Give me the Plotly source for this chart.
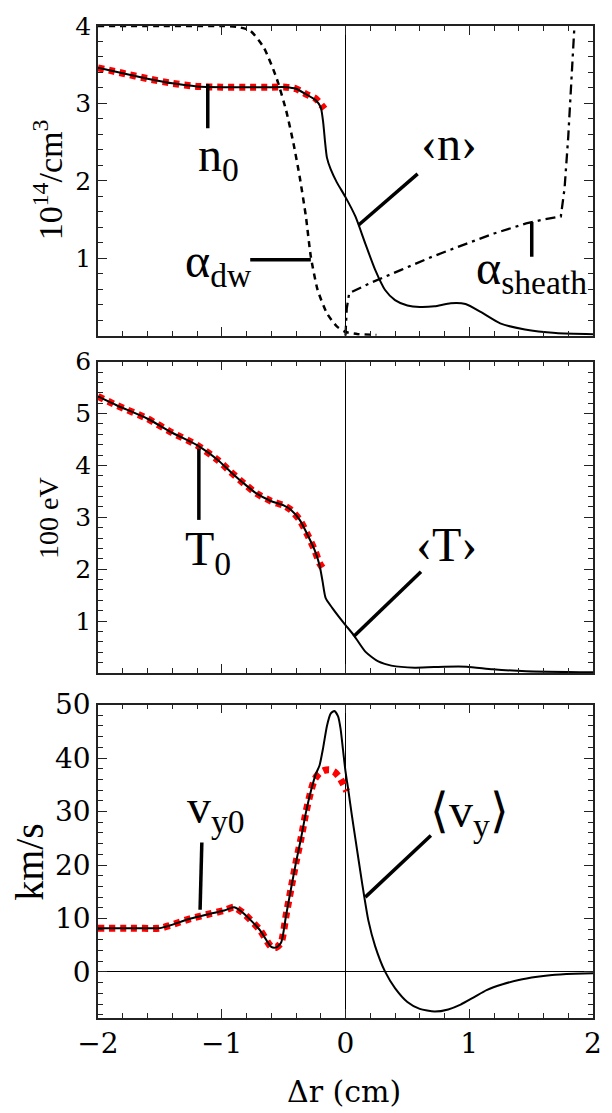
import plotly.graph_objects as go

# ---------------- data ----------------
n0_x = [-2.0, -1.8, -1.6, -1.4, -1.2, -1.0, -0.8, -0.6, -0.48, -0.4, -0.32, -0.24, -0.17]
n0_y = [3.46, 3.39, 3.32, 3.26, 3.22, 3.21, 3.21, 3.21, 3.21, 3.19, 3.12, 3.06, 2.93]

n_avg_x = [-2.0, -1.8, -1.6, -1.4, -1.2, -1.0, -0.8, -0.6, -0.48, -0.4, -0.32, -0.24, -0.2,
           -0.18, -0.165, -0.15, -0.12, -0.07, 0.0, 0.08, 0.16, 0.24, 0.32, 0.4, 0.5, 0.6,
           0.72, 0.85, 0.97, 1.1, 1.25, 1.45, 1.7, 2.0]
n_avg_y = [3.46, 3.39, 3.32, 3.26, 3.22, 3.21, 3.21, 3.21, 3.21, 3.19, 3.12, 3.04, 2.95,
           2.75, 2.5, 2.3, 2.15, 1.98, 1.79, 1.54, 1.19, 0.85, 0.59, 0.46, 0.39, 0.37,
           0.38, 0.42, 0.41, 0.30, 0.16, 0.08, 0.035, 0.02]

alpha_dw_x = [-2.0, -1.5, -1.0, -0.88, -0.77, -0.66, -0.56, -0.48, -0.42, -0.37, -0.32,
              -0.28, -0.225, -0.15, -0.07, 0.0, 0.1, 0.25]
alpha_dw_y = [4.0, 4.0, 4.0, 3.99, 3.94, 3.72, 3.34, 2.91, 2.48, 2.05, 1.54,
              1.02, 0.59, 0.29, 0.12, 0.05, 0.02, 0.01]

sheath_x = [0.0, 0.01, 0.03, 0.2, 0.45, 0.7, 0.98, 1.2, 1.46, 1.6, 1.74, 1.77, 1.80, 1.83, 1.85]
sheath_y = [0.0, 0.35, 0.55, 0.68, 0.85, 1.02, 1.19, 1.32, 1.45, 1.50, 1.54, 1.9, 2.57, 3.42, 4.0]

T0_x = [-2.0, -1.85, -1.6, -1.4, -1.2, -1.03, -0.93, -0.82, -0.72, -0.6, -0.5, -0.44,
        -0.37, -0.3, -0.25, -0.21, -0.18]
T0_y = [5.33, 5.16, 4.90, 4.63, 4.39, 4.10, 3.88, 3.65, 3.46, 3.31, 3.23, 3.14,
        2.95, 2.63, 2.37, 2.12, 2.0]

T_avg_x = [-2.0, -1.85, -1.6, -1.4, -1.2, -1.03, -0.93, -0.82, -0.72, -0.6, -0.5, -0.44,
           -0.37, -0.3, -0.25, -0.21, -0.185, -0.16, -0.106, -0.013, 0.066, 0.16, 0.265,
           0.37, 0.56, 0.8, 0.98, 1.19, 1.46, 2.0]
T_avg_y = [5.33, 5.16, 4.90, 4.63, 4.39, 4.10, 3.88, 3.65, 3.46, 3.31, 3.23, 3.14,
           2.95, 2.63, 2.37, 2.08, 1.76, 1.44, 1.25, 0.96, 0.73, 0.41, 0.22,
           0.14, 0.10, 0.12, 0.12, 0.07, 0.03, 0.01]

vy0_x = [-2.0, -1.75, -1.5, -1.42, -1.25, -1.09, -0.98, -0.9, -0.82, -0.69, -0.6, -0.56,
         -0.52, -0.48, -0.44, -0.4, -0.36, -0.32, -0.28, -0.25, -0.21, -0.17, -0.13,
         -0.09, -0.05, -0.02, 0.01]
vy0_y = [8.2, 8.2, 8.2, 8.7, 10.0, 10.9, 11.5, 12.1, 10.9, 7.8, 4.7, 4.6,
         5.5, 10.6, 15.6, 20.5, 24.9, 29.8, 33.8, 36.0, 37.2, 37.7, 37.8,
         37.4, 36.4, 35.2, 33.8]

vy_avg_x = [-2.0, -1.75, -1.5, -1.42, -1.25, -1.09, -0.98, -0.9, -0.82, -0.69, -0.6, -0.56,
            -0.52, -0.48, -0.44, -0.4, -0.36, -0.32, -0.28, -0.24, -0.21, -0.18, -0.15,
            -0.12, -0.09, -0.06, -0.04, -0.02, 0.0, 0.026, 0.05, 0.08, 0.133, 0.185,
            0.24, 0.32, 0.40, 0.5, 0.6, 0.72, 0.83, 0.93, 1.04, 1.14, 1.27, 1.40,
            1.55, 1.67, 1.85, 2.0]
vy_avg_y = [8.2, 8.2, 8.2, 8.7, 10.0, 10.9, 11.5, 12.1, 10.9, 7.8, 4.7, 4.6,
            5.5, 10.6, 15.6, 20.5, 24.9, 29.8, 33.8, 37.0, 38.6, 42.0, 46.0,
            48.3, 48.8, 47.8, 45.5, 41.5, 37.5, 33.5, 29.5, 24.9, 16.8, 9.6,
            4.8, 0.06, -3.0, -5.6, -6.9, -7.4, -7.0, -6.1, -4.7, -3.4, -2.3, -1.5,
            -0.9, -0.56, -0.35, -0.25]

x_ticks = [-2, -1, 0, 1, 2]
y1_ticks = [1, 2, 3, 4]
y2_ticks = [1, 2, 3, 4, 5, 6]
y3_ticks = [0, 10, 20, 30, 40, 50]

# ---------------- figure ----------------
SERIF = "Liberation Serif, Times New Roman, serif"
TICKF = "DejaVu Serif"
RED = "#ff0000"
fig = go.Figure()

def red_dots(x, y, ax):
    fig.add_trace(go.Scatter(x=x, y=y, mode="lines", xaxis="x" + ax, yaxis="y" + ax,
                             line=dict(color=RED, width=7, dash="6px,5px", shape="spline",
                                       smoothing=0.6),
                             hoverinfo="skip", showlegend=False))

def black_line(x, y, ax, dash="solid", width=2, shape="spline"):
    fig.add_trace(go.Scatter(x=x, y=y, mode="lines", xaxis="x" + ax, yaxis="y" + ax,
                             line=dict(color="black", width=width, dash=dash, shape=shape,
                                       smoothing=0.6 if shape == "spline" else None),
                             hoverinfo="skip", showlegend=False))

black_line(alpha_dw_x, alpha_dw_y, "", dash="6px,5px", width=2.5)
black_line(sheath_x, sheath_y, "", dash="10px,5px,3px,5px", width=2.3, shape="linear")
red_dots(n0_x, n0_y, "")
black_line(n_avg_x, n_avg_y, "")
red_dots(T0_x, T0_y, "2")
black_line(T_avg_x, T_avg_y, "2")
red_dots(vy0_x, vy0_y, "3")
black_line(vy_avg_x, vy_avg_y, "3")

AXC = "#222222"
def xaxis(dom_anchor, labels):
    return dict(range=[-2, 2], domain=[0, 1], anchor=dom_anchor, showgrid=False,
                tickmode="array", tickvals=x_ticks, ticks="inside", ticklen=9,
                tickwidth=1.3, tickcolor=AXC, showline=True, linecolor=AXC, linewidth=1.5,
                mirror="allticks", zeroline=True, zerolinecolor="black", zerolinewidth=1.2,
                showticklabels=labels,
                tickfont=dict(family=TICKF, size=28, color="black"),
                minor=dict(ticks="inside", dtick=0.2, tick0=0, ticklen=5, tickwidth=1,
                           tickcolor=AXC, showgrid=False))

def yaxis(dom, rng, tv, minor_dt, fsize, anchor):
    return dict(range=rng, domain=dom, anchor=anchor, showgrid=False,
                tickmode="array", tickvals=tv, ticks="inside", ticklen=9, tickwidth=1.3,
                tickcolor=AXC, showline=True, linecolor=AXC, linewidth=1.5,
                mirror="allticks", zeroline=True, zerolinecolor="black", zerolinewidth=1.2,
                tickfont=dict(family=TICKF, size=fsize, color="black"),
                minor=dict(ticks="inside", dtick=minor_dt, tick0=0, ticklen=5,
                           tickwidth=1, tickcolor=AXC, showgrid=False))

fig.update_layout(
    width=612, height=1113,
    margin=dict(l=98, r=10, t=22, b=95),
    paper_bgcolor="white", plot_bgcolor="white",
    font=dict(family=SERIF, color="black"),
    xaxis=xaxis("y", False),
    xaxis2=xaxis("y2", False),
    xaxis3=xaxis("y3", True),
    yaxis=yaxis([0.6878, 1.0], [0, 4], y1_ticks, 0.2, 25, "x"),
    yaxis2=yaxis([0.3479, 0.6616], [0, 6], y2_ticks, 0.2, 25, "x2"),
    yaxis3=yaxis([0.0, 0.3160], [-8.6, 50], y3_ticks, 2, 28, "x3"),
    showlegend=False,
)

pointer = [
    ("x", "y", -1.113, 3.25, -1.113, 2.68),
    ("x", "y", -0.77, 0.98, -0.28, 0.98),
    ("x", "y", 0.583, 2.09, 0.106, 1.43),
    ("x", "y", 1.505, 1.47, 1.505, 1.02),
    ("x2", "y2", -1.185, 4.32, -1.185, 2.95),
    ("x2", "y2", 0.61, 1.95, 0.066, 0.70),
    ("x3", "y3", -1.161, 24.2, -1.175, 11.65),
    ("x3", "y3", 0.69, 25.5, 0.16, 14.0),
]
for xr, yr, x0, y0, x1, y1 in pointer:
    fig.add_shape(type="line", xref=xr, yref=yr, x0=x0, y0=y0, x1=x1, y1=y1,
                  line=dict(color="black", width=3.5))

labels = [
    ("x", "y", -1.03, 2.3, "n<sub>0</sub>"),
    ("x", "y", -1.03, 0.93, "α<sub>dw</sub>"),
    ("x", "y", 0.84, 2.48, "‹n›"),
    ("x", "y", 1.50, 0.84, "α<sub>sheath</sub>"),
    ("x2", "y2", -1.11, 2.33, "T<sub>0</sub>"),
    ("x2", "y2", 0.82, 2.48, "‹T›"),
    ("x3", "y3", -1.05, 30.3, "v<sub>y0</sub>"),
    ("x3", "y3", 1.0, 29.6, "⟨v<sub>y</sub>⟩"),
]
for xr, yr, x, y, t in labels:
    fig.add_annotation(xref=xr, yref=yr, x=x, y=y, text=t, showarrow=False,
                       xanchor="center", yanchor="middle",
                       font=dict(family=SERIF, size=48, color="black"))

titles = [
    (-0.101, 0.8444, "10<sup>14</sup>/cm<sup>3</sup>", 34, -90, SERIF),
    (-0.101, 0.504, "100 eV", 28, -90, SERIF),
    (-0.139, 0.1576, "km/s", 40, -90, SERIF),
    (0.496, -0.0745, "Δr (cm)", 30, 0, TICKF),
]
for x, y, t, s, ang, fam in titles:
    fig.add_annotation(xref="paper", yref="paper", x=x, y=y, text=t, showarrow=False,
                       xanchor="center", yanchor="middle", textangle=ang,
                       font=dict(family=fam, size=s, color="black"))

fig.write_html("out.html")
